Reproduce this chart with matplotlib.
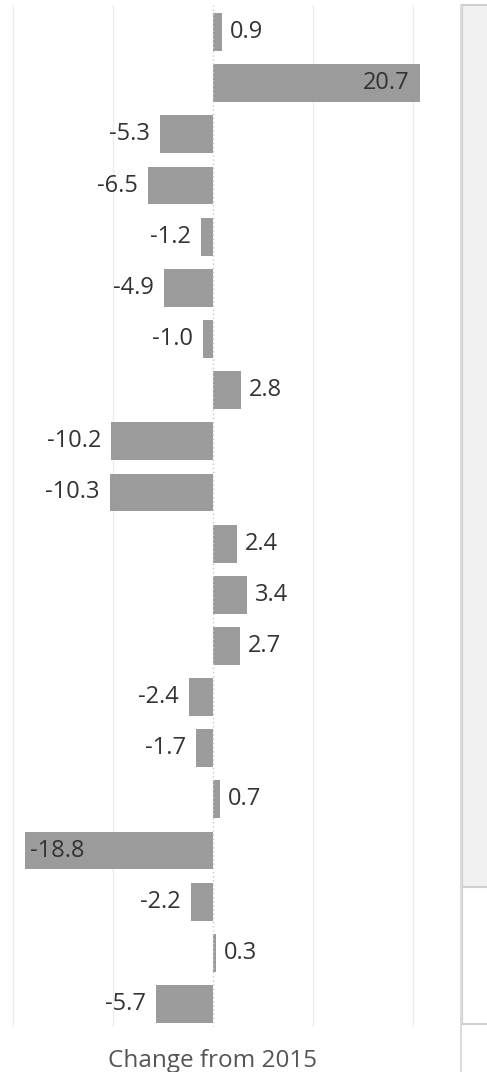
import numpy as np
import matplotlib.pyplot as plt
from matplotlib.patches import Rectangle
from matplotlib.lines import Line2D

# nilai perubahan dari 2015, urut dari atas ke bawah
changes = [0.9, 20.7, -5.3, -6.5, -1.2, -4.9, -1.0, 2.8, -10.2, -10.3,
           2.4, 3.4, 2.7, -2.4, -1.7, 0.7, -18.8, -2.2, 0.3, -5.7]
x_ticks = [-20, -10, 0, 10, 20]
axis_title = 'Change from 2015'

W, H = 487, 1072
fig = plt.figure(figsize=(W / 100, H / 100), dpi=100)
plt.rcParams['font.family'] = ['Open Sans', 'DejaVu Sans']

# area plot dalam piksel
left, right, top, bottom = 0, 445, 5, 1027
ax = fig.add_axes([left / W, 1 - bottom / H, (right - left) / W, (bottom - top) / H])

x0_px = 213
scale = 10.0  # piksel per unit
ax.set_xlim((left - x0_px) / scale, (right - x0_px) / scale)
ax.set_ylim(19.45, -0.53)

bar_col = '#9b9b9b'
txt_col = '#333333'
fs = 17
y = np.arange(len(changes))
ax.barh(y, changes, height=0.74, color=bar_col, zorder=2)

for xt in x_ticks:
    if xt == 0:
        ax.axvline(0, color='#c8c8c8', lw=1, ls=(0, (1, 2)), zorder=3)
    else:
        ax.axvline(xt, color='#ececec', lw=1, zorder=1)

for i, v in enumerate(changes):
    s = f'{v:.1f}'
    if abs(v) > 15:
        if v > 0:
            ax.text(v - 1.0, i, s, ha='right', va='center', fontsize=fs, color=txt_col, zorder=4)
        else:
            ax.text(v + 0.5, i, s, ha='left', va='center', fontsize=fs, color=txt_col, zorder=4)
    elif v >= 0:
        ax.text(v + 0.8, i, s, ha='left', va='center', fontsize=fs, color=txt_col, zorder=4)
    else:
        ax.text(v - 1.0, i, s, ha='right', va='center', fontsize=fs, color=txt_col, zorder=4)

ax.set_xticks([])
ax.set_yticks([])
for sp in ax.spines.values():
    sp.set_visible(False)

fig.text(x0_px / W, 1 - 1067 / H, axis_title, ha='center', va='baseline',
         fontsize=17.5, color='#555555')

# panel di kanan
fig.patches.append(Rectangle((462 / W, 1 - 887 / H), 40 / W, 882 / H,
                             transform=fig.transFigure, facecolor='#f0f0f0',
                             edgecolor='#cfcfcf', lw=1.5))
fig.patches.append(Rectangle((462 / W, 1 - 1024 / H), 40 / W, 137 / H,
                             transform=fig.transFigure, facecolor='white',
                             edgecolor='#cfcfcf', lw=1.5))
fig.lines.append(Line2D([461 / W, 461 / W], [0, 1 - 5 / H], transform=fig.transFigure,
                        color='#dddddd', lw=1.5))

fig.savefig('out.png', dpi=100)
